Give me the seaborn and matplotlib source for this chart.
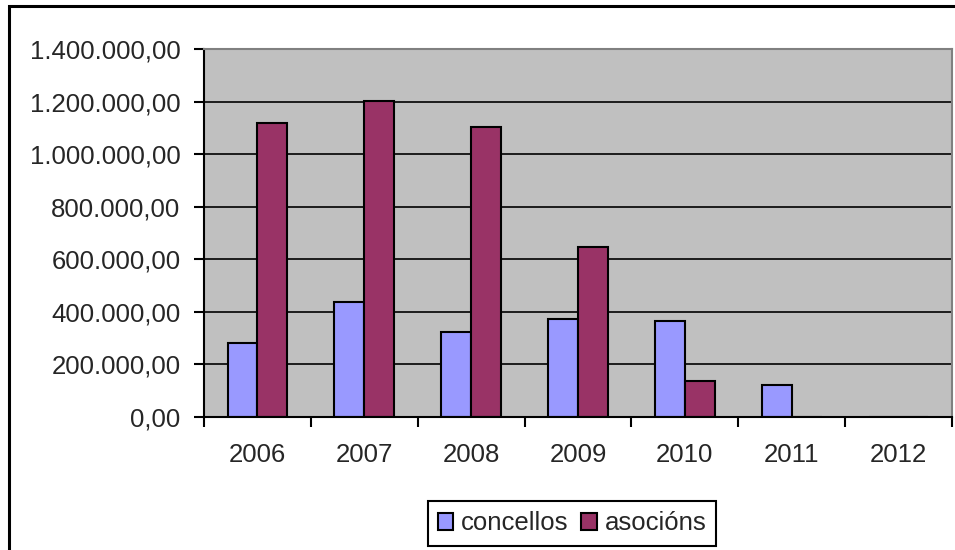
import pandas as pd
import matplotlib.pyplot as plt
import seaborn as sns
from matplotlib.ticker import FuncFormatter, FixedLocator

# values
years = ["2006", "2007", "2008", "2009", "2010", "2011", "2012"]
concellos = [280000, 438000, 324000, 371000, 365000, 121000, 0]
asocions = [1118000, 1203000, 1103000, 645000, 136000, 0, 0]
series_names = ["concellos", "asocións"]
colors = ["#9999FF", "#993366"]


def es_format(v, pos):
    """Format numbers like 1.400.000,00"""
    s = f"{v:,.2f}"
    return s.replace(",", "X").replace(".", ",").replace("X", ".")


if __name__ == "__main__":
    df = pd.DataFrame(
        {
            "year": years * 2,
            "value": concellos + asocions,
            "serie": [series_names[0]] * len(years) + [series_names[1]] * len(years),
        }
    )

    sns.set_style("white")
    plt.rcParams["font.family"] = ["Liberation Sans", "DejaVu Sans"]

    fig = plt.figure(figsize=(9.55, 5.5), dpi=100)
    ax = fig.add_axes([204 / 955, 1 - 417 / 550, 748 / 955, 368 / 550])

    sns.barplot(
        data=df,
        x="year",
        y="value",
        hue="serie",
        hue_order=series_names,
        palette=colors,
        width=0.56,
        saturation=1,
        edgecolor="black",
        linewidth=1.5,
        ax=ax,
    )

    ax.set_facecolor("#C0C0C0")
    ax.set_ylim(0, 1400000)
    ax.set_xlim(-0.5, len(years) - 0.5)
    ax.set_yticks(range(0, 1400001, 200000))
    ax.yaxis.set_major_formatter(FuncFormatter(es_format))
    ax.yaxis.grid(True, color="black", linewidth=1.2)
    ax.set_axisbelow(True)
    ax.set_xlabel("")
    ax.set_ylabel("")

    # ticks between categories on x
    ax.xaxis.set_minor_locator(FixedLocator([i - 0.5 for i in range(len(years) + 1)]))
    ax.tick_params(axis="x", which="major", length=0, pad=19, labelsize=18.5)
    ax.tick_params(axis="x", which="minor", length=7, width=1.5, color="black", direction="out")
    ax.tick_params(axis="y", which="major", length=7, width=1.5, color="black",
                   direction="out", pad=10, labelsize=18.5)
    ax.tick_params(bottom=True, left=True, which="both")

    for side in ["left", "bottom"]:
        ax.spines[side].set_color("black")
        ax.spines[side].set_linewidth(1.5)
    for side in ["top", "right"]:
        ax.spines[side].set_color("#808080")
        ax.spines[side].set_linewidth(1.5)

    handles, labels = ax.get_legend_handles_labels()
    ax.get_legend().remove()
    leg = fig.legend(
        handles,
        labels,
        loc="center",
        bbox_to_anchor=(572 / 955, 1 - 523.5 / 550),
        ncol=2,
        fontsize=18.5,
        frameon=True,
        fancybox=False,
        edgecolor="black",
        framealpha=1,
        handlelength=0.6,
        handleheight=0.6,
        handletextpad=0.3,
        columnspacing=0.5,
        borderpad=0.4,
        borderaxespad=0,
    )
    leg.get_frame().set_linewidth(1.5)

    # outer chart border
    fig.add_artist(
        plt.Rectangle(
            (9 / 955, -0.1), 1.2, 1.1 - 6 / 550,
            transform=fig.transFigure, fill=False, edgecolor="black",
            linewidth=2.2, clip_on=False,
        )
    )

    fig.savefig("out.png", dpi=100)
